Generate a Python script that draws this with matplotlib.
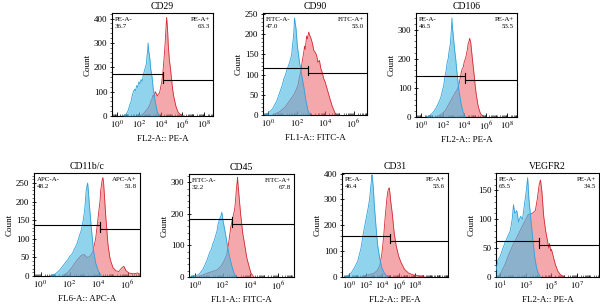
import numpy as np
import matplotlib
matplotlib.use("Agg")
import matplotlib.pyplot as plt
from matplotlib.ticker import FixedLocator, NullFormatter, AutoMinorLocator, MultipleLocator

plt.rcParams['font.family'] = ['Liberation Serif', 'DejaVu Serif']
plt.rcParams['mathtext.fontset'] = 'stix'

# ---------------- data (x in log10 fluorescence, y = count) ----------------
titles = ["CD29", "CD90", "CD106", "CD11b/c", "CD45", "CD31", "VEGFR2"]
xlabels = ["FL2-A:: PE-A", "FL1-A:: FITC-A", "FL2-A:: PE-A", "FL6-A:: APC-A",
           "FL1-A:: FITC-A", "FL2-A:: PE-A", "FL2-A:: PE-A"]
neg_names = ["PE-A-", "FITC-A-", "PE-A-", "APC-A-", "FITC-A-", "PE-A-", "PE-A-"]
pos_names = ["PE-A+", "FITC-A+", "PE-A+", "APC-A+", "FITC-A+", "PE-A+", "PE-A+"]
neg_pct = ["36.7", "47.0", "46.5", "48.2", "32.2", "46.4", "65.5"]
pos_pct = ["63.3", "53.0", "53.5", "51.8", "67.8", "53.6", "34.5"]
gate_logx = [4.25, 2.8, 4.05, 4.1, 2.66, 4.96, 4.0]
gate_left_count = [172, 115, 142, 137, 182, 158, 63]
gate_right_count = [147, 105, 126, 126, 167, 140, 55]
y_max = [423, 252, 357, 277, 326, 402, 180]
y_major = [100, 50, 100, 50, 100, 100, 50]
x_lim = [(-0.46, 8.8), (-0.37, 6.95), (-0.49, 8.9), (-0.45, 6.86),
         (-0.41, 7.14), (-0.9, 12.0), (0.69, 8.7)]
x_labeled = [[0, 2, 4, 6, 8], [0, 2, 4, 6], [0, 2, 4, 6, 8], [0, 2, 4, 6],
             [0, 2, 4, 6], [0, 2, 4, 6, 8], [1, 3, 5, 7]]

# CD29
cd29_neg_x = [0.5, 0.8, 1.0, 1.2, 1.3, 1.4, 1.5, 1.6, 1.7, 1.8, 1.9, 2.0, 2.1, 2.2, 2.3, 2.4, 2.5, 2.6, 2.7, 2.75, 2.8, 2.85, 2.9, 2.95, 3.0, 3.1, 3.2, 3.3, 3.4, 3.5, 3.7, 3.9]
cd29_neg_y = [0, 5, 20, 50, 62, 85, 100, 110, 104, 125, 118, 140, 132, 150, 142, 165, 185, 200, 215, 248, 262, 300, 270, 255, 240, 190, 165, 120, 88, 60, 15, 0]
cd29_pos_x = [2.0, 2.4, 2.8, 3.0, 3.1, 3.2, 3.3, 3.4, 3.5, 3.6, 3.7, 3.8, 3.9, 4.0, 4.1, 4.2, 4.3, 4.4, 4.45, 4.5, 4.55, 4.6, 4.65, 4.7, 4.8, 4.9, 5.0, 5.1, 5.2, 5.4, 5.6, 5.9, 6.2]
cd29_pos_y = [0, 8, 30, 45, 60, 70, 85, 80, 100, 92, 82, 90, 95, 118, 140, 175, 230, 290, 330, 370, 405, 375, 340, 290, 230, 195, 150, 110, 80, 40, 15, 3, 0]
# CD90
cd90_neg_x = [-0.3, 0.0, 0.3, 0.6, 0.9, 1.0, 1.1, 1.2, 1.3, 1.4, 1.5, 1.6, 1.65, 1.7, 1.75, 1.8, 1.85, 1.9, 1.95, 2.05, 2.2, 2.35, 2.5, 2.65, 2.8, 2.95]
cd90_neg_y = [0, 5, 15, 35, 65, 75, 90, 98, 110, 120, 130, 142, 150, 170, 185, 205, 240, 225, 215, 170, 130, 100, 70, 35, 10, 0]
cd90_pos_x = [0.3, 0.8, 1.2, 1.5, 1.8, 2.0, 2.1, 2.2, 2.3, 2.4, 2.5, 2.55, 2.6, 2.7, 2.75, 2.85, 2.9, 3.0, 3.1, 3.15, 3.2, 3.3, 3.4, 3.5, 3.6, 3.7, 3.8, 3.9, 4.0, 4.1, 4.3, 4.5, 4.7, 4.8]
cd90_pos_y = [0, 8, 20, 35, 50, 65, 75, 95, 110, 135, 155, 170, 162, 195, 188, 205, 198, 190, 178, 170, 160, 155, 148, 130, 135, 115, 105, 90, 82, 70, 45, 22, 5, 0]
# CD106
cd106_neg_x = [0.4, 0.8, 1.2, 1.5, 1.8, 2.0, 2.1, 2.2, 2.3, 2.4, 2.5, 2.6, 2.7, 2.75, 2.8, 2.85, 2.9, 2.95, 3.1, 3.2, 3.3, 3.5, 3.7, 3.9, 4.1]
cd106_neg_y = [0, 5, 20, 40, 65, 95, 112, 140, 158, 185, 200, 230, 250, 275, 300, 340, 305, 290, 230, 200, 160, 90, 45, 15, 0]
cd106_pos_x = [1.4, 1.8, 2.2, 2.5, 2.8, 3.1, 3.3, 3.4, 3.5, 3.6, 3.7, 3.8, 3.9, 4.0, 4.1, 4.2, 4.3, 4.35, 4.45, 4.5, 4.6, 4.75, 4.9, 5.0, 5.1, 5.3, 5.5, 5.8]
cd106_pos_y = [0, 8, 20, 40, 60, 80, 92, 100, 112, 130, 150, 165, 172, 190, 200, 215, 235, 250, 262, 270, 255, 200, 150, 112, 80, 35, 12, 0]
# CD11b/c
cd11_neg_x = [0.6, 1.0, 1.3, 1.6, 1.9, 2.0, 2.2, 2.3, 2.5, 2.6, 2.7, 2.8, 2.9, 3.0, 3.05, 3.1, 3.15, 3.2, 3.25, 3.3, 3.35, 3.5, 3.65, 3.8, 4.0, 4.2]
cd11_neg_y = [0, 5, 15, 30, 45, 52, 60, 70, 85, 98, 110, 122, 140, 165, 180, 205, 230, 242, 250, 228, 200, 130, 70, 35, 12, 0]
cd11_pos_x = [1.5, 1.9, 2.2, 2.5, 2.8, 3.0, 3.2, 3.4, 3.6, 3.8, 3.95, 4.05, 4.1, 4.15, 4.2, 4.25, 4.3, 4.35, 4.4, 4.5, 4.65, 4.8, 5.0, 5.2, 5.4, 5.6, 5.75, 5.9, 6.1, 6.4, 6.7, 6.85]
cd11_pos_y = [0, 10, 25, 42, 55, 58, 50, 52, 65, 100, 150, 185, 200, 230, 245, 258, 265, 250, 220, 160, 85, 45, 22, 14, 12, 22, 26, 14, 8, 6, 8, 5]
# CD45
cd45_neg_x = [-0.35, 0.0, 0.3, 0.6, 0.9, 1.0, 1.1, 1.2, 1.3, 1.4, 1.5, 1.6, 1.65, 1.7, 1.8, 1.9, 1.95, 2.05, 2.2, 2.35, 2.5, 2.7, 2.85, 3.0]
cd45_neg_y = [0, 3, 8, 25, 55, 68, 80, 88, 105, 115, 130, 145, 160, 170, 185, 195, 205, 175, 140, 100, 65, 30, 10, 0]
cd45_pos_x = [0.1, 0.5, 0.9, 1.3, 1.6, 1.9, 2.1, 2.3, 2.45, 2.6, 2.75, 2.85, 2.9, 2.95, 3.0, 3.05, 3.08, 3.12, 3.18, 3.3, 3.45, 3.6, 3.75, 3.9, 4.05, 4.25]
cd45_pos_y = [0, 5, 12, 18, 22, 35, 50, 70, 110, 160, 190, 210, 225, 250, 280, 300, 315, 290, 260, 200, 140, 100, 60, 35, 12, 0]
# CD31
cd31_neg_x = [-0.6, -0.2, 0.2, 0.6, 1.0, 1.4, 1.7, 2.0, 2.3, 2.45, 2.55, 2.65, 2.75, 2.8, 2.9, 3.05, 3.25, 3.45, 3.7, 3.95, 4.3, 4.7]
cd31_neg_y = [0, 5, 15, 35, 60, 110, 170, 220, 270, 300, 330, 365, 395, 380, 350, 270, 190, 120, 70, 35, 12, 0]
cd31_pos_x = [1.5, 2.0, 2.5, 3.0, 3.4, 3.7, 3.95, 4.15, 4.35, 4.55, 4.65, 4.75, 4.85, 4.95, 5.0, 5.2, 5.45, 5.7, 6.0, 6.3, 6.7, 7.2, 7.8, 8.5, 9.2]
cd31_pos_y = [0, 5, 10, 15, 25, 45, 90, 150, 230, 300, 325, 340, 345, 320, 300, 250, 170, 120, 80, 55, 30, 15, 8, 4, 0]
# VEGFR2
vegf_neg_x = [0.7, 0.85, 1.0, 1.2, 1.4, 1.6, 1.8, 1.95, 2.05, 2.15, 2.3, 2.45, 2.6, 2.75, 2.9, 3.05, 3.15, 3.25, 3.4, 3.55, 3.7, 3.85, 4.0, 4.15]
vegf_neg_y = [12, 30, 35, 48, 60, 70, 80, 100, 125, 110, 115, 95, 105, 100, 125, 150, 172, 135, 100, 65, 35, 15, 5, 0]
vegf_pos_x = [0.85, 1.1, 1.4, 1.7, 2.0, 2.3, 2.6, 2.9, 3.2, 3.5, 3.75, 3.9, 4.05, 4.15, 4.25, 4.4, 4.55, 4.7, 4.8, 4.85, 4.95, 5.0, 5.15, 5.3, 5.5, 5.7, 5.95]
vegf_pos_y = [0, 8, 22, 40, 55, 68, 82, 95, 108, 110, 115, 135, 160, 168, 150, 105, 80, 62, 50, 58, 45, 48, 35, 22, 10, 4, 0]

neg_series = [(cd29_neg_x, cd29_neg_y), (cd90_neg_x, cd90_neg_y), (cd106_neg_x, cd106_neg_y),
              (cd11_neg_x, cd11_neg_y), (cd45_neg_x, cd45_neg_y), (cd31_neg_x, cd31_neg_y),
              (vegf_neg_x, vegf_neg_y)]
pos_series = [(cd29_pos_x, cd29_pos_y), (cd90_pos_x, cd90_pos_y), (cd106_pos_x, cd106_pos_y),
              (cd11_pos_x, cd11_pos_y), (cd45_pos_x, cd45_pos_y), (cd31_pos_x, cd31_pos_y),
              (vegf_pos_x, vegf_pos_y)]

# ---------------- layout (pixel boxes: left, right, top, bottom) ----------------
W, H = 600, 306
boxes = [(112, 213, 13, 116), (263, 367, 13, 115), (416, 517, 13, 117),
         (34, 140, 173, 276), (189, 294, 174, 277), (342, 448, 173, 277), (496, 599, 173, 277)]

fig = plt.figure(figsize=(W / 100, H / 100), dpi=100)

blue_fill = (0.30, 0.72, 0.89)
blue_edge = (0.18, 0.63, 0.86)
red_fill = (0.92, 0.38, 0.40)
red_edge = (0.84, 0.16, 0.20)

for i in range(7):
    l, r, t, b = boxes[i]
    ax = fig.add_axes([l / W, (H - b) / H, (r - l) / W, (b - t) / H])
    ax.set_xscale('log')
    px, py = pos_series[i]
    nx, ny = neg_series[i]
    pxv = 10.0 ** np.array(px)
    nxv = 10.0 ** np.array(nx)
    ax.fill_between(pxv, py, 0, color=red_fill, alpha=0.55, lw=0, zorder=2)
    ax.plot(pxv, py, color=red_edge, lw=0.6, zorder=3)
    ax.fill_between(nxv, ny, 0, color=blue_fill, alpha=0.62, lw=0, zorder=4)
    ax.plot(nxv, ny, color=blue_edge, lw=0.6, zorder=5)

    x0, x1 = 10.0 ** x_lim[i][0], 10.0 ** x_lim[i][1]
    ax.set_xlim(x0, x1)
    ax.set_ylim(0, y_max[i])

    g = 10.0 ** gate_logx[i]
    yl, yr = gate_left_count[i], gate_right_count[i]
    ax.plot([x0, g], [yl, yl], color='black', lw=0.8, zorder=6)
    ax.plot([g, x1], [yr, yr], color='black', lw=0.8, zorder=6)
    d = 0.025 * y_max[i]
    ax.plot([g, g], [min(yl, yr) - d, max(yl, yr) + d], color='black', lw=0.8, zorder=6)

    # ticks
    ax.xaxis.set_major_locator(FixedLocator([10.0 ** k for k in x_labeled[i]]))
    ax.set_xticklabels([r'$10^{%d}$' % k for k in x_labeled[i]])
    minor = []
    for k in range(int(np.floor(x_lim[i][0])) - 1, int(np.ceil(x_lim[i][1])) + 1):
        for s in range(1, 10):
            v = s * 10.0 ** k
            if x0 < v < x1 and not (s == 1 and k in x_labeled[i]):
                minor.append(v)
    ax.xaxis.set_minor_locator(FixedLocator(minor))
    ax.xaxis.set_minor_formatter(NullFormatter())
    ax.yaxis.set_major_locator(MultipleLocator(y_major[i]))
    ax.yaxis.set_minor_locator(AutoMinorLocator(5))
    ax.tick_params(axis='x', which='major', direction='in', length=3, width=0.6, labelsize=6.5, pad=2)
    ax.tick_params(axis='x', which='minor', direction='in', length=1.8, width=0.4)
    ax.tick_params(axis='y', which='major', direction='inout', length=3.5, width=0.6, labelsize=6.5, pad=1.5)
    ax.tick_params(axis='y', which='minor', direction='out', length=1.5, width=0.4)
    for sp in ax.spines.values():
        sp.set_linewidth(0.8)

    ax.set_title(titles[i], fontsize=7, pad=3)
    ax.set_xlabel(xlabels[i], fontsize=6.5, labelpad=3)
    ax.set_ylabel("Count", fontsize=6.5, labelpad=2)

    ax.text(0.03, 0.96, neg_names[i] + "\n" + neg_pct[i], transform=ax.transAxes,
            ha='left', va='top', fontsize=5, linespacing=1.45, zorder=7)
    ax.text(0.97, 0.96, pos_names[i] + "\n" + pos_pct[i], transform=ax.transAxes,
            ha='right', va='top', fontsize=5, linespacing=1.45, zorder=7,
            multialignment='right')

fig.savefig("out.png", dpi=100)
